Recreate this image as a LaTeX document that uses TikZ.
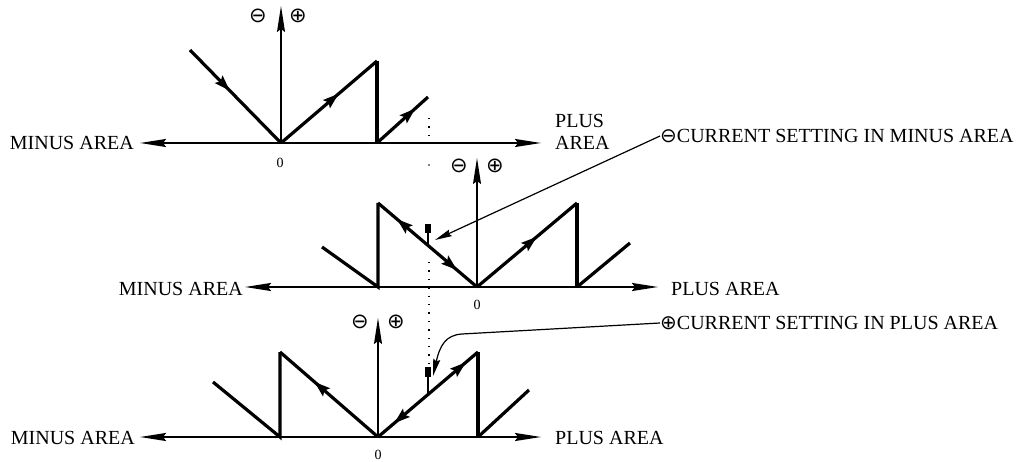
\documentclass[tikz,border=0pt]{standalone}
\usepackage{fontspec}
\setmainfont{Liberation Serif}
\newfontfamily\symf{DejaVu Sans}
\usetikzlibrary{arrows.meta,decorations.markings}
\tikzset{
  wave/.style={line width=3.2pt, line join=miter},
  axisline/.style={line width=2pt, {Stealth[length=26pt,width=8pt,inset=3pt]}-{Stealth[length=26pt,width=8pt,inset=3pt]}},
  vaxis/.style={line width=1.5pt, -{Stealth[length=26pt,width=8pt,inset=3pt]}},
  midfwd/.style={postaction={decorate,decoration={markings,mark=at position #1 with {\fill (10pt,0pt) -- (-6pt,5.5pt) -- (-3pt,0pt) -- (-6pt,-5.5pt) -- cycle;}}}},
  midbwd/.style={postaction={decorate,decoration={markings,mark=at position #1 with {\fill (-10pt,0pt) -- (6pt,5.5pt) -- (3pt,0pt) -- (6pt,-5.5pt) -- cycle;}}}},
  lbl/.style={font=\fontsize{20}{22}\selectfont, inner sep=0pt},
  zero/.style={font=\fontsize{14}{15}\selectfont, inner sep=0pt},
  sgn/.style={font=\symf\fontsize{21}{22}\selectfont, inner sep=0pt},
  leader/.style={line width=1.2pt, -{Stealth[length=17pt,width=7pt,inset=2pt]}},
  dots/.style={line width=1.4pt, dash pattern=on 1.4pt off 7pt},
}
\newcommand{\circsym}[1]{{\symf\fontsize{20}{22}\selectfont #1}}
\begin{document}
\begin{tikzpicture}[x=1pt,y=-1pt]
\useasboundingbox (0,0) rectangle (1030,462);

% ---------------- panel 1 ----------------
\node[lbl,anchor=east] (m1) at (134,143) {MINUS AREA};
\node[lbl,anchor=west,align=left] (p1) at (555,132) {PLUS\\AREA};
\coordinate (a1l) at (140,143);
\coordinate (a1r) at (541,143);
\draw[axisline] (a1r) -- (a1l);
\coordinate (o1) at (281,143);
\coordinate (t1) at (281,6);
\draw[vaxis] (o1) -- (t1);
\node[sgn] (n1) at (258,16) {⊖};
\node[sgn] (q1) at (298,16) {⊕};
\node[zero] (z1) at (280,163) {0};
\coordinate (s1) at (190,50);
\coordinate (k1) at (377,61);
\coordinate (b1) at (377,143);
\coordinate (e1) at (428,97);
\draw[wave,midfwd=0.36] (s1) -- (o1);
\draw[wave,midfwd=0.52] (o1) -- (k1);
\draw[wave] (k1) -- (b1);
\draw[wave,midfwd=0.6] (b1) -- (e1);

% dotted reference line
\draw[dots] (429,118) -- (429,142);
\fill (429,165) circle (0.8pt);
\draw[dots] (429,262) -- (429,374);

% ---------------- panel 2 ----------------
\node[lbl,anchor=east] (m2) at (243,289) {MINUS AREA};
\node[lbl,anchor=west] (p2) at (671,289) {PLUS AREA};
\coordinate (a2l) at (245,287);
\coordinate (a2r) at (658,287);
\draw[axisline] (a2r) -- (a2l);
\coordinate (o2) at (477,287);
\coordinate (t2) at (477,158);
\draw[vaxis] (o2) -- (t2);
\node[sgn] (n2) at (459,166) {⊖};
\node[sgn] (q2) at (495,166) {⊕};
\node[zero] (z2) at (477,305) {0};
\coordinate (s2) at (322,247);
\coordinate (b2l) at (378,287);
\coordinate (k2l) at (378,203);
\coordinate (k2r) at (577,203);
\coordinate (b2r) at (577,287);
\coordinate (e2) at (630,243);
\draw[wave] (s2) -- (b2l) -- (k2l);
\draw[wave,midbwd=0.27,midfwd=0.72] (k2l) -- (o2);
\draw[wave,midfwd=0.52] (o2) -- (k2r);
\draw[wave] (k2r) -- (b2r);
\draw[wave] (b2r) -- (e2);
% current-setting marker
\coordinate (mk2) at (428,246);
\draw[line width=1.6pt] (mk2) -- (428,226);
\fill (425,224) rectangle (431,233);
\node[lbl,anchor=west] (lab2) at (660,136) {\circsym{⊖}CURRENT SETTING IN MINUS AREA};
\coordinate (tip2) at (435,240);
\draw[leader] (lab2.west) -- (tip2);

% ---------------- panel 3 ----------------
\node[lbl,anchor=east] (m3) at (135,438) {MINUS AREA};
\node[lbl,anchor=west] (p3) at (555,438) {PLUS AREA};
\coordinate (a3l) at (140,437);
\coordinate (a3r) at (541,437);
\draw[axisline] (a3r) -- (a3l);
\coordinate (o3) at (378,437);
\coordinate (t3) at (378,318);
\draw[vaxis] (o3) -- (t3);
\node[sgn] (n3) at (360,322) {⊖};
\node[sgn] (q3) at (396,322) {⊕};
\node[zero] (z3) at (378,455) {0};
\coordinate (s3) at (213,382);
\coordinate (b3l) at (280,437);
\coordinate (k3l) at (280,352);
\coordinate (k3r) at (478,352);
\coordinate (b3r) at (478,437);
\coordinate (e3) at (529,390);
\draw[wave] (s3) -- (b3l) -- (k3l);
\draw[wave,midbwd=0.43] (k3l) -- (o3);
\draw[wave,midbwd=0.24,midfwd=0.8] (o3) -- (k3r);
\draw[wave] (k3r) -- (b3r);
\draw[wave] (b3r) -- (e3);
\coordinate (mk3) at (428,395);
\draw[line width=1.6pt] (mk3) -- (428,370);
\fill (425,367) rectangle (431,377);
\node[lbl,anchor=west] (lab3) at (660,323) {\circsym{⊕}CURRENT SETTING IN PLUS AREA};
\coordinate (bend3) at (462,334);
\coordinate (tip3) at (433,376);
\draw[leader] (lab3.west) -- (bend3) .. controls (446,335) and (440,345) .. (tip3);
\end{tikzpicture}
\end{document}
